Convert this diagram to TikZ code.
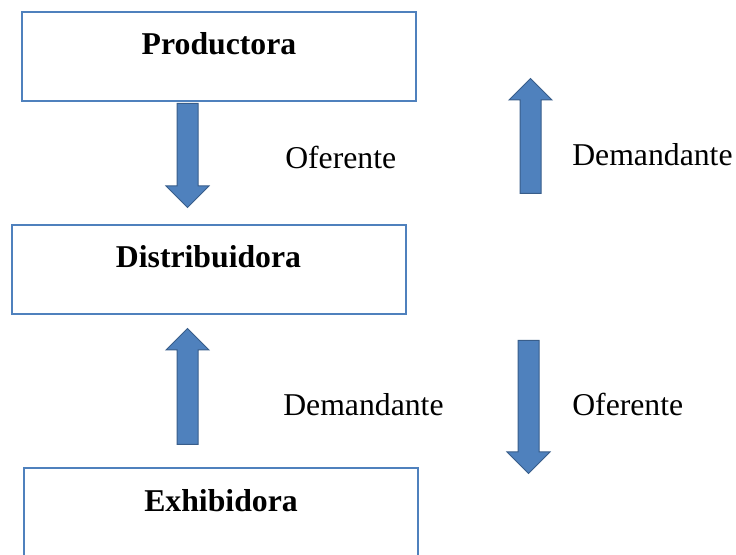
\documentclass[tikz,border=0pt]{standalone}
\usepackage{xcolor}
\usepackage{fontspec}
\setmainfont{Liberation Serif}
\usepackage{tikz}
\usetikzlibrary{shapes.arrows}

\definecolor{boxblue}{HTML}{4F81BD}
\definecolor{arrowblue}{HTML}{4F81BD}
\definecolor{arrowedge}{HTML}{385D8A}

\begin{document}
\begin{tikzpicture}[x=0.75pt, y=-0.75pt,
    empresa/.style={rectangle, draw=boxblue, line width=1.5pt, inner sep=0pt, minimum width=295.5pt, text height=32.25pt, text depth=34.5pt, font=\bfseries\fontsize{23.8}{28}\selectfont},
    flecha/.style={single arrow, fill=arrowblue, draw=arrowedge, line width=0.75pt, inner xsep=0pt, inner ysep=7.5pt, minimum width=0pt, single arrow head extend=8.25pt, single arrow tip angle=90, anchor=tail},
    rol/.style={anchor=west, inner sep=0pt, font=\fontsize{23.8}{28}\selectfont}]
    \clip (0, 0) rectangle (736, 555);

    \node[empresa] at (219, 56.5) (prod) {Productora};
    \node[empresa] at (208.5, 269.5) (dist) {Distribuidora};
    \node[empresa] at (221, 513) (exhi) {Exhibidora};

    \node[flecha, rotate=-90, minimum height=78pt] at (187.5, 103) (ofer1) {};
    \node[flecha, rotate=90, minimum height=86.25pt] at (530.5, 194) (dem1) {};
    \node[flecha, rotate=90, minimum height=87pt] at (187.5, 445) (dem2) {};
    \node[flecha, rotate=-90, minimum height=99.75pt] at (528.5, 340) (ofer2) {};

    \node[rol] at (285, 157) (ofer1txt) {Oferente};
    \node[rol] at (572, 155) (dem1txt) {Demandante};
    \node[rol] at (283, 405) (dem2txt) {Demandante};
    \node[rol] at (572, 404) (ofer2txt) {Oferente};
\end{tikzpicture}
\end{document}
